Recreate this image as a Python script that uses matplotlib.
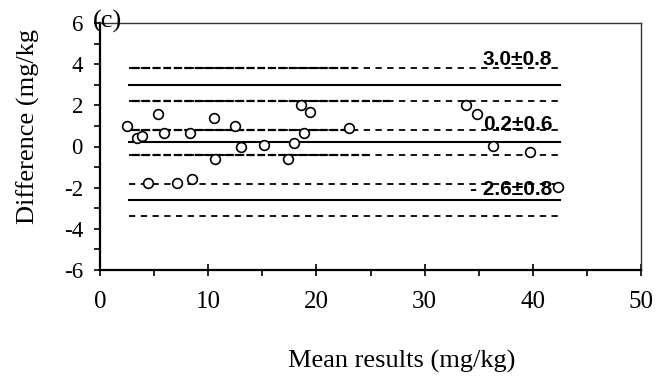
import numpy as np
import matplotlib
matplotlib.use("Agg")
import matplotlib.pyplot as plt
from matplotlib.ticker import MultipleLocator

plt.rcParams["axes.unicode_minus"] = False

# --- data ---
mean_result = [2.5, 3.4, 3.9, 4.4, 5.4, 5.9, 7.1, 8.3, 8.5, 10.5, 10.6, 12.5,
               13.0, 15.2, 17.4, 17.9, 18.6, 18.9, 19.4, 23.0, 33.8, 34.8,
               36.3, 39.7, 42.3]
difference = [1.0, 0.4, 0.5, -1.77, 1.58, 0.65, -1.77, 0.65, -1.6, 1.4, -0.6, 1.0,
              0.0, 0.07, -0.6, 0.15, 2.0, 0.65, 1.67, 0.9, 2.0, 1.6,
              0.02, -0.27, -1.97]

group_mean = [3.0, 0.2, -2.6]
group_upper = [3.8, 0.8, -1.8]
group_lower = [2.2, -0.4, -3.4]
group_label = ["3.0\u00b10.8", "0.2\u00b10.6", "- 2.6\u00b10.8"]
label_y = [3.97, 0.8, -2.38]

line_start, line_end = 2.7, 42.5
# dashed lines that look doubled (heavier) on their left part
heavy_levels = [3.8, 2.2, 0.8, -0.4]
heavy_end = [23.7, 27.0, 22.8, 25.0]

serif = ["Liberation Serif", "DejaVu Serif"]
sans = ["Liberation Sans", "DejaVu Sans"]

fig = plt.figure(figsize=(6.57, 3.83), dpi=100)
ax = fig.add_axes([100 / 657, 1 - 270 / 383, 541 / 657, 247 / 383])

# limit of agreement lines
for m, up, lo in zip(group_mean, group_upper, group_lower):
    ax.plot([line_start, line_end], [m, m], color="black", lw=1.5, zorder=2)
    for lev in (up, lo):
        ax.plot([line_start, line_end], [lev, lev], color="black", lw=1.3,
                dashes=(3.5, 3), zorder=2)

for lev, xe in zip(heavy_levels, heavy_end):
    ax.plot([line_start + 0.3, xe], [lev, lev], color="black", lw=1.6,
            dashes=(3.5, 1.2), dash_capstyle="butt", zorder=2)

ax.plot(mean_result, difference, "o", ms=7, mfc="white", mec="black",
        mew=1.2, linestyle="none", zorder=4)

for ly, txt in zip(label_y, group_label):
    ax.text(41.8, ly, txt, ha="right", va="baseline", fontsize=15,
            fontweight="bold", family=sans, zorder=3)

ax.set_xlim(0, 50)
ax.set_ylim(-6, 6)
ax.xaxis.set_major_locator(MultipleLocator(10))
ax.xaxis.set_minor_locator(MultipleLocator(5))
ax.yaxis.set_major_locator(MultipleLocator(2))
ax.yaxis.set_minor_locator(MultipleLocator(1))

ax.tick_params(axis="x", which="major", direction="inout", length=8, width=1.2, pad=11)
ax.tick_params(axis="x", which="minor", direction="out", length=4.3, width=1.2)
ax.tick_params(axis="y", which="both", direction="out", length=4.3, width=1.2, pad=8)
for lab in ax.get_xticklabels() + ax.get_yticklabels():
    lab.set_family(serif)
for lab in ax.get_xticklabels():
    lab.set_fontsize(18)
for lab in ax.get_yticklabels():
    lab.set_fontsize(16.5)

ax.spines["left"].set_linewidth(1.6)
ax.spines["bottom"].set_linewidth(1.6)
for s in ("top", "right"):
    ax.spines[s].set_linewidth(1.0)
    ax.spines[s].set_color("#333333")

fig.text(288 / 657, 1 - 368 / 383, "Mean results (mg/kg)", ha="left", va="baseline",
         fontsize=19, family=serif)
fig.text(28 / 657, 1 - 127 / 383, "Difference (mg/kg", ha="center", va="center",
         rotation=90, fontsize=19, family=serif)
fig.text(93 / 657, 1 - 28 / 383, "(c)", ha="left", va="baseline",
         fontsize=19, family=serif)

fig.savefig("out.png", dpi=100)
